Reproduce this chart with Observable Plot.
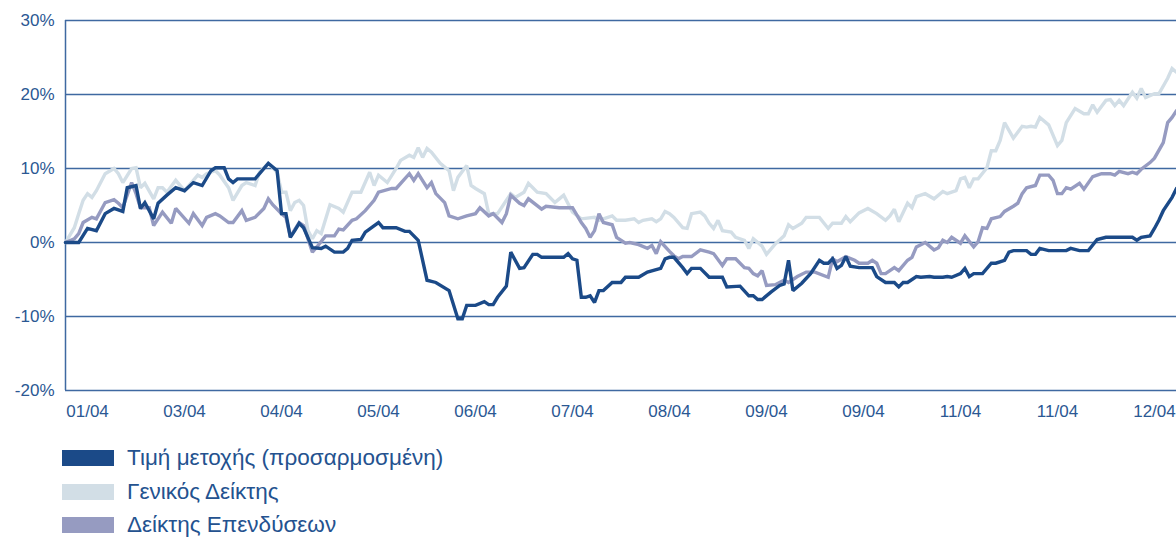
<!DOCTYPE html>
<html>
<head>
<meta charset="utf-8">
<script src="https://cdn.jsdelivr.net/npm/d3@7"></script>
<script src="https://cdn.jsdelivr.net/npm/@observablehq/plot@0.6"></script>
<style>
  html, body { margin: 0; padding: 0; background: #fff; }
  body { width: 1176px; height: 538px; overflow: hidden; font-family: "Liberation Sans", Arial, sans-serif; }
  #chart svg { display: block; }
  #legend { padding-top: 11px; }
  .row { display: flex; align-items: center; height: 33.7px; margin-left: 62px; }
  .sw { width: 52px; height: 16px; margin-right: 13px; flex: none; }
  .lab { font-size: 22.5px; color: #24528f; white-space: nowrap; }
</style>
</head>
<body>
<div id="chart"></div>
<div id="legend"></div>
<script>
// ---- data (trading-day index, % change) ----
const seriesNames = ["Τιμή μετοχής (προσαρμοσμένη)", "Γενικός Δείκτης", "Δείκτης Επενδύσεων"];
const seriesColors = ["#1b4a88", "#d2dee6", "#969bc1"];

const stockSeries = [[0,0],[3,0],[5,1.9],[7,1.6],[9,3.9],[11,4.6],[13,4.2],[14,7.4],[16,7.7],[17,4.6],[18,5.4],[20,3.2],[21,5.3],[23,6.4],[25,7.4],[27,7.0],[29,8.1],[31,7.7],[33,9.7],[34,10.1],[36,10.1],[37,8.6],[38,8.1],[39,8.6],[43,8.6],[46,10.7],[48,9.7],[49,3.9],[50,3.9],[51,0.7],[52,1.6],[53,2.6],[54,2.0],[56,-0.7],[58,-0.8],[59,-0.5],[61,-1.3],[63,-1.3],[64,-0.8],[65,0.3],[67,0.4],[68,1.4],[71,2.7],[72,2.0],[75,2.0],[77,1.5],[78,1.5],[80,0.3],[82,-5.1],[84,-5.4],[87,-6.5],[89,-10.3],[90,-10.3],[91,-8.5],[93,-8.5],[95,-8.0],[96,-8.4],[97,-8.4],[98,-7.4],[100,-5.9],[101,-1.3],[103,-3.5],[104,-3.4],[106,-1.6],[107,-1.6],[108,-2.0],[113,-2.0],[114,-1.5],[115,-2.2],[116,-2.4],[117,-7.4],[118,-7.4],[119,-7.2],[120,-8.1],[121,-6.5],[122,-6.5],[124,-5.4],[126,-5.4],[127,-4.7],[130,-4.7],[132,-4.0],[135,-3.5],[136,-2.2],[137,-2.0],[138,-2.0],[140,-3.4],[141,-4.2],[142,-3.5],[144,-3.5],[146,-4.7],[149,-4.7],[150,-6.0],[153,-5.9],[155,-7.2],[156,-7.2],[157,-7.7],[158,-7.7],[160,-6.7],[162,-5.8],[163,-5.6],[164,-2.4],[165,-6.5],[167,-5.5],[169,-4.2],[171,-2.4],[172,-2.8],[173,-2.8],[174,-2.2],[175,-3.5],[176,-3.1],[177,-1.9],[178,-3.2],[180,-3.4],[183,-3.4],[184,-4.6],[186,-5.4],[188,-5.4],[189,-6.0],[190,-5.4],[191,-5.4],[193,-4.6],[194,-4.7],[196,-4.6],[197,-4.7],[199,-4.7],[200,-4.6],[201,-4.7],[203,-4.2],[204,-3.5],[205,-4.6],[206,-4.2],[208,-4.2],[210,-2.8],[211,-2.8],[213,-2.4],[214,-1.3],[215,-1.1],[218,-1.1],[219,-1.6],[220,-1.6],[221,-0.8],[223,-1.1],[227,-1.1],[228,-0.8],[230,-1.1],[232,-1.1],[234,0.4],[236,0.7],[242,0.7],[243,0.3],[244,0.7],[246,0.9],[247,1.9],[248,3.0],[249,4.3],[251,6.1],[252,7.3]];

const generalSeries = [[0,0],[2,2.0],[3,3.9],[4,5.7],[5,6.6],[6,6.1],[7,7.0],[9,9.3],[11,10.0],[12,9.3],[13,8.1],[15,10.0],[16,10.1],[17,7.4],[18,8.0],[20,5.9],[21,7.4],[22,7.4],[23,6.8],[25,8.4],[27,7.0],[29,8.4],[30,9.1],[31,8.8],[32,9.3],[34,9.7],[35,9.1],[37,7.4],[38,5.7],[40,7.7],[41,8.1],[43,7.7],[44,9.5],[46,10.7],[48,9.5],[49,6.8],[50,6.8],[51,4.3],[52,5.4],[53,5.7],[54,5.0],[55,1.6],[56,0.5],[57,1.6],[58,1.2],[60,5.1],[62,4.6],[63,4.1],[65,6.8],[67,6.8],[69,9.5],[70,7.7],[71,9.1],[73,8.1],[75,10.0],[76,11.1],[78,11.8],[79,11.5],[80,12.8],[81,11.5],[82,12.7],[83,12.2],[85,10.7],[87,9.7],[88,7.0],[89,8.8],[91,10.4],[92,7.7],[93,7.3],[95,6.6],[96,3.9],[98,3.9],[101,6.6],[102,6.1],[104,6.8],[105,8.0],[107,6.8],[109,6.6],[111,5.4],[112,5.9],[113,6.4],[115,4.1],[117,3.2],[120,3.4],[121,3.0],[122,3.2],[124,3.6],[125,3.0],[127,3.0],[129,3.2],[130,2.7],[131,3.0],[133,3.2],[134,2.8],[135,3.2],[136,4.2],[137,3.9],[138,3.4],[140,2.0],[141,1.9],[142,3.9],[144,4.1],[145,3.6],[146,2.6],[147,1.9],[148,3.0],[149,1.6],[151,1.4],[152,0.7],[154,0.3],[155,-0.8],[156,0.5],[158,-0.5],[159,-1.6],[161,-0.2],[163,0.9],[164,2.4],[165,1.9],[167,2.6],[168,3.4],[171,3.4],[173,1.9],[174,2.6],[176,2.6],[177,3.5],[178,2.8],[180,4.0],[182,4.6],[184,3.9],[186,3.0],[187,3.6],[188,4.5],[189,2.8],[191,5.3],[192,4.7],[193,6.2],[195,6.6],[197,5.9],[199,6.9],[200,6.6],[202,7.0],[203,8.6],[204,8.8],[205,7.4],[206,8.6],[207,8.6],[209,10.1],[210,12.4],[211,12.4],[212,13.8],[213,16.2],[215,14.1],[217,15.7],[218,15.6],[219,15.7],[220,15.6],[221,16.9],[223,15.9],[225,13.1],[226,13.8],[227,16.2],[229,18.1],[231,17.4],[232,17.4],[233,18.6],[234,17.6],[236,19.2],[237,19.3],[238,18.5],[239,19.2],[240,18.5],[242,20.3],[243,19.5],[244,20.8],[245,19.6],[247,20.1],[248,20.1],[250,22.2],[251,23.5],[252,23.0]];

const investSeries = [[0,0],[2,0.5],[3,1.2],[4,2.7],[6,3.4],[7,3.2],[9,5.4],[11,5.8],[12,5.3],[13,4.7],[15,8.1],[16,6.6],[17,4.7],[19,4.7],[20,2.3],[22,4.1],[24,2.6],[25,4.6],[28,2.6],[29,3.9],[31,2.3],[32,3.4],[34,3.9],[35,3.6],[37,2.7],[38,2.7],[40,4.3],[41,3.0],[43,3.4],[45,4.6],[46,5.9],[47,5.1],[49,3.9],[50,3.4],[51,0.8],[53,2.7],[54,2.3],[56,-1.3],[57,-0.6],[59,0.9],[61,0.9],[62,1.8],[63,1.7],[65,3.0],[66,3.2],[68,4.3],[70,5.7],[71,6.8],[74,7.3],[75,7.3],[78,9.3],[79,8.4],[80,9.3],[82,7.4],[83,8.1],[84,6.6],[86,5.4],[87,3.6],[89,3.2],[91,3.6],[93,3.9],[94,4.7],[96,3.6],[97,3.9],[99,2.7],[100,3.9],[101,6.4],[103,5.3],[104,5.0],[105,5.9],[108,4.5],[109,4.9],[112,4.7],[115,4.7],[117,2.7],[118,1.9],[119,0.7],[120,1.6],[121,3.9],[122,2.7],[124,2.4],[125,0.7],[127,-0.1],[128,0],[130,-0.3],[132,-0.8],[133,-0.4],[134,-1.5],[135,0.1],[137,-1.2],[138,-1.8],[139,-2.2],[140,-1.9],[142,-1.9],[144,-1.0],[146,-1.3],[147,-1.5],[149,-3.1],[150,-2.2],[152,-2.2],[154,-3.4],[155,-3.5],[156,-4.2],[157,-4.5],[158,-3.8],[159,-5.8],[161,-5.7],[163,-5.1],[164,-5.4],[166,-4.6],[168,-4.0],[170,-4.0],[173,-4.7],[174,-2.2],[175,-2.6],[177,-1.9],[179,-2.4],[180,-2.8],[182,-2.8],[183,-2.4],[184,-2.8],[185,-4.2],[186,-4.2],[188,-3.4],[189,-3.8],[191,-2.4],[192,-2.0],[193,-0.6],[195,0],[197,-1.0],[198,-0.7],[199,0.3],[200,0.0],[201,0.7],[203,-0.1],[204,0.9],[206,-0.6],[207,0.1],[208,2.0],[209,1.9],[210,3.2],[212,3.5],[213,4.2],[215,4.9],[216,5.3],[217,6.6],[218,7.4],[220,7.7],[221,9.1],[223,9.1],[224,8.4],[225,6.6],[226,6.6],[227,7.4],[228,7.2],[230,8.0],[231,7.2],[233,8.9],[234,9.1],[235,9.3],[237,9.3],[238,9.1],[239,9.6],[241,9.3],[242,9.5],[243,9.3],[244,9.9],[246,10.8],[247,11.4],[249,13.5],[250,16.2],[251,16.9],[252,17.8]];

const tickDays = [5, 27, 49, 71, 93, 115, 137, 159, 181, 203, 225, 247];
const tickLabels = ["01/04", "03/04", "04/04", "05/04", "06/04", "07/04", "08/04", "09/04", "09/04", "11/04", "11/04", "12/04"];
const yTicks = [-20, -10, 0, 10, 20, 30];

// ---- build ----
const toRows = (arr, name) => arr.map(([d, v]) => ({day: d, value: v, series: name}));
const layers = [
  {rows: toRows(generalSeries, seriesNames[1]), color: seriesColors[1]},
  {rows: toRows(investSeries, seriesNames[2]), color: seriesColors[2]},
  {rows: toRows(stockSeries, seriesNames[0]), color: seriesColors[0]}
];
const axisColor = "#2b5893";
const gridColor = "#3f69a1";

const chart = Plot.plot({
  width: 1176,
  height: 430,
  marginLeft: 65,
  marginRight: 0,
  marginTop: 20,
  marginBottom: 40,
  style: {fontFamily: "'Liberation Sans', Arial, sans-serif", fontSize: "17px", color: axisColor, background: "#fff", overflow: "visible"},
  x: {domain: [0, 252], axis: null, label: null},
  y: {domain: [-20, 30], axis: null, label: null},
  marks: [
    Plot.ruleY(yTicks, {stroke: gridColor, strokeWidth: 1.5}),
    Plot.ruleX([0], {stroke: gridColor, strokeWidth: 1.5}),
    Plot.axisY({ticks: yTicks, label: null, tickSize: 0, tickPadding: 11, tickFormat: d => d + "%", fill: axisColor, fontSize: 17}),
    Plot.axisX({ticks: tickDays, label: null, tickSize: 0, tickPadding: 14, tickFormat: d => tickLabels[tickDays.indexOf(d)], fill: axisColor, fontSize: 17}),
    ...layers.map(l => Plot.line(l.rows, {x: "day", y: "value", stroke: l.color, strokeWidth: 3.4, strokeLinejoin: "miter", strokeMiterlimit: 2}))
  ]
});
document.getElementById("chart").appendChild(chart);

const legend = document.getElementById("legend");
seriesNames.forEach((n, i) => {
  const row = document.createElement("div");
  row.className = "row";
  row.innerHTML = `<div class="sw" style="background:${seriesColors[i]}"></div><div class="lab">${n}</div>`;
  legend.appendChild(row);
});
</script>
</body>
</html>
